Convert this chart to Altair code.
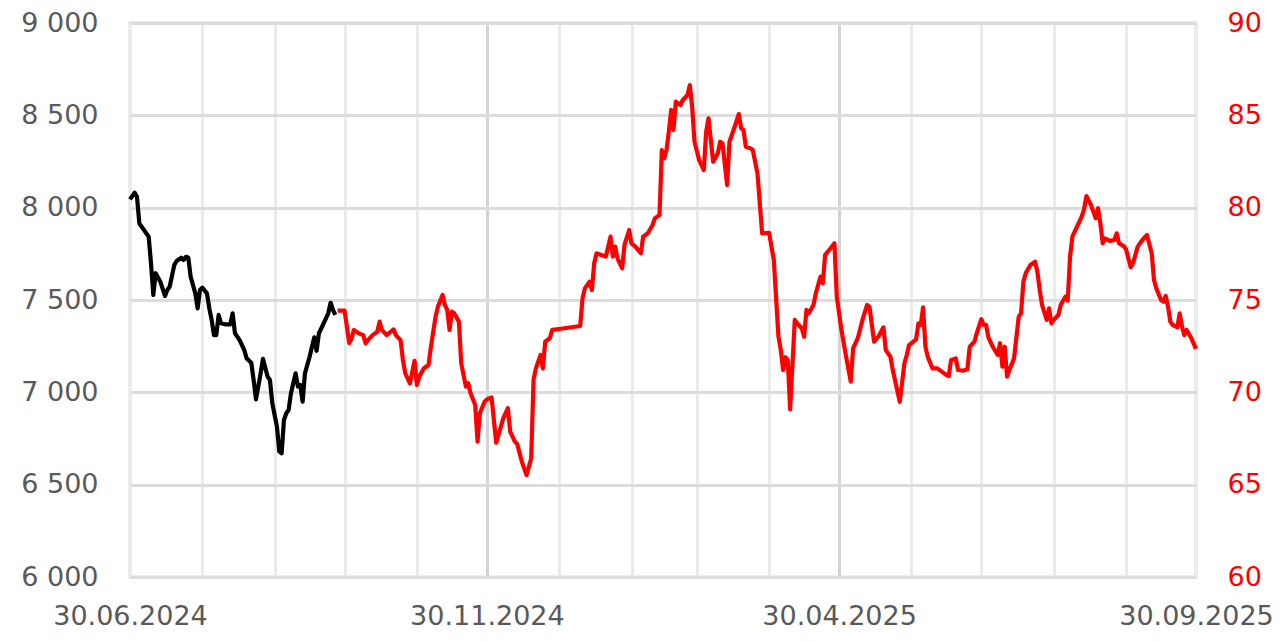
import altair as alt
import pandas as pd

# ---- data ----
black_dates = [
    "2024-06-30", "2024-07-02", "2024-07-03", "2024-07-04", "2024-07-05", "2024-07-08", "2024-07-09",
    "2024-07-10", "2024-07-11", "2024-07-13", "2024-07-15", "2024-07-16", "2024-07-17", "2024-07-19",
    "2024-07-20", "2024-07-22", "2024-07-23", "2024-07-24", "2024-07-25", "2024-07-26", "2024-07-28",
    "2024-07-29", "2024-07-30", "2024-07-31", "2024-08-02", "2024-08-03", "2024-08-04", "2024-08-05",
    "2024-08-06", "2024-08-07", "2024-08-08", "2024-08-10", "2024-08-12", "2024-08-13", "2024-08-14",
    "2024-08-16", "2024-08-18", "2024-08-19", "2024-08-21", "2024-08-22", "2024-08-23", "2024-08-25",
    "2024-08-26", "2024-08-28", "2024-08-29", "2024-08-30", "2024-09-01", "2024-09-02", "2024-09-03",
    "2024-09-04", "2024-09-05", "2024-09-06", "2024-09-07", "2024-09-09", "2024-09-10", "2024-09-11",
    "2024-09-12", "2024-09-13", "2024-09-15", "2024-09-17", "2024-09-18", "2024-09-19", "2024-09-21",
    "2024-09-23", "2024-09-24", "2024-09-25", "2024-09-26",
]
black_values = [
    8045, 8081, 8059, 7915, 7897, 7843, 7700,
    7527, 7645, 7599, 7522, 7554, 7572, 7690,
    7711, 7729, 7717, 7734, 7729, 7626, 7536,
    7455, 7554, 7567, 7536, 7455, 7392, 7310,
    7310, 7419, 7374, 7368, 7368, 7428, 7320,
    7283, 7229, 7184, 7160, 7067, 6962, 7103,
    7181, 7085, 7067, 6941, 6814, 6679, 6670,
    6850, 6887, 6904, 6995, 7103, 7031, 7040,
    6949, 7103, 7193, 7298, 7225, 7320, 7374,
    7428, 7485, 7446, 7419,
]

red_dates = [
    "2024-09-27", "2024-09-30", "2024-10-02", "2024-10-03", "2024-10-04", "2024-10-06", "2024-10-08",
    "2024-10-09", "2024-10-10", "2024-10-12", "2024-10-14", "2024-10-15", "2024-10-16", "2024-10-18",
    "2024-10-19", "2024-10-21", "2024-10-22", "2024-10-24", "2024-10-25", "2024-10-26", "2024-10-28",
    "2024-10-30", "2024-10-31", "2024-11-01", "2024-11-03", "2024-11-05", "2024-11-06", "2024-11-08",
    "2024-11-09", "2024-11-11", "2024-11-12", "2024-11-13", "2024-11-14", "2024-11-15", "2024-11-16",
    "2024-11-18", "2024-11-19", "2024-11-21", "2024-11-22", "2024-11-23", "2024-11-25", "2024-11-26",
    "2024-11-27", "2024-11-29", "2024-11-30", "2024-12-02", "2024-12-03", "2024-12-04", "2024-12-06",
    "2024-12-07", "2024-12-09", "2024-12-10", "2024-12-12", "2024-12-13", "2024-12-15", "2024-12-17",
    "2024-12-19", "2024-12-20", "2024-12-21", "2024-12-23", "2024-12-24", "2024-12-25", "2024-12-27",
    "2024-12-28", "2024-12-31", "2025-01-09", "2025-01-10", "2025-01-11", "2025-01-13", "2025-01-14",
    "2025-01-15", "2025-01-16", "2025-01-18", "2025-01-20", "2025-01-22", "2025-01-23", "2025-01-24",
    "2025-01-25", "2025-01-27", "2025-01-28", "2025-01-30", "2025-01-31", "2025-02-02", "2025-02-04",
    "2025-02-05", "2025-02-07", "2025-02-09", "2025-02-10", "2025-02-12", "2025-02-13", "2025-02-14",
    "2025-02-15", "2025-02-16", "2025-02-17", "2025-02-18", "2025-02-19", "2025-02-21", "2025-02-22",
    "2025-02-24", "2025-02-25", "2025-02-26", "2025-02-27", "2025-03-01", "2025-03-03", "2025-03-04",
    "2025-03-05", "2025-03-06", "2025-03-07", "2025-03-09", "2025-03-10", "2025-03-11", "2025-03-13",
    "2025-03-14", "2025-03-16", "2025-03-18", "2025-03-19", "2025-03-20", "2025-03-21", "2025-03-23",
    "2025-03-24", "2025-03-26", "2025-03-28", "2025-03-31", "2025-04-02", "2025-04-04", "2025-04-05",
    "2025-04-06", "2025-04-07", "2025-04-08", "2025-04-09", "2025-04-11", "2025-04-12", "2025-04-14",
    "2025-04-15", "2025-04-16", "2025-04-17", "2025-04-19", "2025-04-20", "2025-04-22", "2025-04-23",
    "2025-04-24", "2025-04-26", "2025-04-28", "2025-04-29", "2025-05-01", "2025-05-03", "2025-05-05",
    "2025-05-06", "2025-05-08", "2025-05-10", "2025-05-12", "2025-05-13", "2025-05-15", "2025-05-17",
    "2025-05-19", "2025-05-20", "2025-05-22", "2025-05-23", "2025-05-26", "2025-05-28", "2025-05-29",
    "2025-05-30", "2025-06-02", "2025-06-03", "2025-06-04", "2025-06-05", "2025-06-06", "2025-06-07",
    "2025-06-09", "2025-06-11", "2025-06-13", "2025-06-15", "2025-06-16", "2025-06-17", "2025-06-19",
    "2025-06-20", "2025-06-22", "2025-06-24", "2025-06-25", "2025-06-27", "2025-06-28", "2025-06-30",
    "2025-07-01", "2025-07-02", "2025-07-03", "2025-07-05", "2025-07-07", "2025-07-08", "2025-07-09",
    "2025-07-10", "2025-07-11", "2025-07-12", "2025-07-14", "2025-07-16", "2025-07-17", "2025-07-18",
    "2025-07-19", "2025-07-21", "2025-07-23", "2025-07-24", "2025-07-25", "2025-07-26", "2025-07-28",
    "2025-07-29", "2025-07-30", "2025-07-31", "2025-08-02", "2025-08-03", "2025-08-05", "2025-08-06",
    "2025-08-07", "2025-08-08", "2025-08-10", "2025-08-12", "2025-08-13", "2025-08-14", "2025-08-16",
    "2025-08-18", "2025-08-19", "2025-08-20", "2025-08-21", "2025-08-22", "2025-08-24", "2025-08-26",
    "2025-08-27", "2025-08-28", "2025-08-30", "2025-08-31", "2025-09-02", "2025-09-03", "2025-09-05",
    "2025-09-07", "2025-09-09", "2025-09-11", "2025-09-12", "2025-09-13", "2025-09-15", "2025-09-16",
    "2025-09-17", "2025-09-18", "2025-09-19", "2025-09-20", "2025-09-22", "2025-09-23", "2025-09-24",
    "2025-09-25", "2025-09-26", "2025-09-28", "2025-09-30",
]
red_values = [
    74.42, 74.42, 72.66, 72.93, 73.38, 73.20, 73.10,
    72.66, 72.83, 73.10, 73.28, 73.83, 73.38, 73.10,
    73.20, 73.41, 73.10, 72.83, 71.75, 71.03, 70.49,
    71.71, 70.40, 70.85, 71.30, 71.48, 72.47, 74.10,
    74.64, 75.27, 74.73, 74.46, 73.38, 74.37, 74.28,
    73.83, 71.57, 70.31, 70.49, 69.95, 69.31, 67.33,
    68.87, 69.49, 69.62, 69.73, 68.50, 67.27, 68.14,
    68.59, 69.14, 67.87, 67.33, 67.20, 66.24, 65.52,
    66.43, 70.67, 71.30, 72.02, 71.30, 72.74, 72.93,
    73.38, 73.43, 73.59, 75.09, 75.63, 75.99, 75.54,
    76.99, 77.53, 77.44, 77.35, 78.43, 77.35, 77.89,
    77.26, 76.72, 77.98, 78.79, 78.07, 77.85, 77.53,
    78.43, 78.61, 79.06, 79.42, 79.60, 83.12, 82.67,
    83.12, 84.11, 85.29, 84.21, 85.74, 85.56, 85.83,
    86.10, 86.64, 85.47, 83.57, 82.58, 82.04, 84.11,
    84.84, 83.66, 82.49, 82.94, 83.57, 83.49, 81.23,
    83.57, 84.30, 85.07, 84.30, 84.21, 83.30, 83.21,
    83.12, 81.86, 78.61, 78.64, 77.17, 73.01, 72.29,
    71.21, 71.90, 71.75, 69.08, 73.92, 73.74, 73.47,
    73.01, 74.46, 74.28, 74.73, 75.36, 76.26, 75.90,
    77.44, 77.75, 78.07, 75.18, 73.38, 71.93, 70.58,
    72.38, 72.93, 73.92, 74.73, 74.64, 72.74, 73.05,
    73.52, 72.29, 71.93, 71.21, 69.49, 71.57, 72.02,
    72.56, 72.87, 73.74, 73.65, 74.60, 72.47, 71.93,
    71.30, 71.30, 71.12, 70.94, 70.88, 71.75, 71.84,
    71.21, 71.17, 71.25, 72.47, 72.74, 73.20, 73.96,
    73.65, 73.65, 72.98, 72.44, 72.02, 72.66, 71.39,
    72.47, 70.85, 71.21, 71.84, 74.10, 74.28, 75.99,
    76.45, 76.90, 77.07, 76.53, 75.54, 74.73, 73.92,
    74.55, 73.74, 73.92, 74.19, 74.73, 75.18, 74.96,
    77.34, 78.43, 78.97, 79.51, 79.91, 80.63, 80.14,
    79.42, 79.97, 79.15, 78.07, 78.34, 78.20, 78.25,
    78.61, 78.07, 77.92, 77.75, 76.77, 76.99, 77.89,
    78.25, 78.52, 77.53, 76.08, 75.63, 75.00, 74.91,
    75.22, 74.64, 73.83, 73.65, 73.52, 74.28, 73.56,
    73.10, 73.38, 72.93, 72.35,
]

# month-end grid dates (year, month, day)
grid_dates = [
    (2024, 6, 30), (2024, 7, 31), (2024, 8, 31), (2024, 9, 30), (2024, 10, 31), (2024, 11, 30),
    (2024, 12, 31), (2025, 1, 31), (2025, 2, 28), (2025, 3, 31), (2025, 4, 30), (2025, 5, 31),
    (2025, 6, 30), (2025, 7, 31), (2025, 8, 31), (2025, 9, 30),
]
labelled_dates = ["30.06.2024", "30.11.2024", "30.04.2025", "30.09.2025"]
left_ticks = [6000, 6500, 7000, 7500, 8000, 8500, 9000]
right_ticks = [60, 65, 70, 75, 80, 85, 90]

# ---- build ----
black_df = pd.DataFrame({"date": black_dates, "value": black_values})
red_df = pd.DataFrame({"date": red_dates, "value": red_values})

def dt(t):
    return alt.DateTime(year=t[0], month=t[1], date=t[2], utc=True)

grid_values = [dt(t) for t in grid_dates]
lab_list = "[" + ",".join("'%s'" % s for s in labelled_dates) + "]"
fmt = "utcFormat(datum.value, '%d.%m.%Y')"
label_expr = f"indexof({lab_list}, {fmt}) >= 0 ? {fmt} : ''"
major_test = f"indexof(['30.11.2024','30.04.2025'], {fmt}) >= 0"

FONT = "DejaVu Sans"
GRAY = "#595959"
RED = "#FF0000"
FS = 27

x_enc = alt.X(
    "date:T",
    scale=alt.Scale(type="utc", domain=[dt(grid_dates[0]), dt(grid_dates[-1])], nice=False),
    axis=alt.Axis(
        values=grid_values,
        labelExpr=label_expr,
        title=None,
        grid=True,
        gridColor={"condition": {"test": major_test, "value": "#d4d4d4"}, "value": "#ebebeb"},
        gridWidth=3,
        domain=False,
        ticks=False,
        tickSize=0,
        labelPadding=26,
        labelFont=FONT,
        labelFontSize=FS,
        labelColor=GRAY,
        labelOverlap=False,
        labelFlush=False,
    ),
)

black = alt.Chart(black_df).mark_line(color="#000000", strokeWidth=4.2, strokeJoin="round").encode(
    x=x_enc,
    y=alt.Y(
        "value:Q",
        scale=alt.Scale(domain=[6000, 9000], nice=False, zero=False),
        axis=alt.Axis(
            values=left_ticks,
            labelExpr="replace(format(datum.value, ','), ',', ' ')",
            title=None,
            orient="left",
            grid=True,
            gridColor="#dcdcdc",
            gridWidth=3,
            domain=False,
            ticks=False,
            tickSize=0,
            labelPadding=32,
            labelFont=FONT,
            labelFontSize=FS,
            labelColor=GRAY,
            labelOverlap=False,
        ),
    ),
)

red = alt.Chart(red_df).mark_line(color=RED, strokeWidth=4.2, strokeJoin="round").encode(
    x=x_enc,
    y=alt.Y(
        "value:Q",
        scale=alt.Scale(domain=[60, 90], nice=False, zero=False),
        axis=alt.Axis(
            values=right_ticks,
            title=None,
            orient="right",
            grid=False,
            domain=False,
            ticks=False,
            tickSize=0,
            labelPadding=31,
            labelFont=FONT,
            labelFontSize=FS,
            labelColor=RED,
            labelOverlap=False,
        ),
    ),
)

chart = (
    alt.layer(black, red)
    .resolve_scale(y="independent")
    .properties(
        width=1066,
        height=554,
        autosize=alt.AutoSizeParams(type="none"),
        padding={"left": 122, "top": 15, "right": 78, "bottom": 52},
        background="#ffffff",
    )
    .configure_view(strokeWidth=3, stroke="#dcdcdc")
)

chart.save("out.html", embed_options={"renderer": "svg", "actions": False})
